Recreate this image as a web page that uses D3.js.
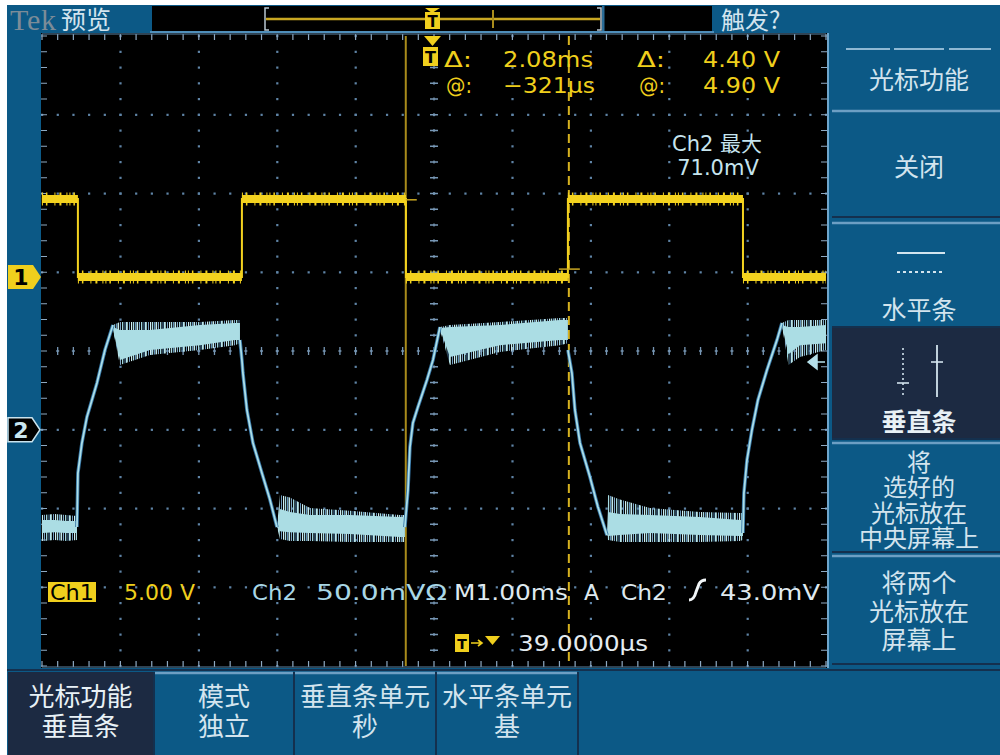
<!DOCTYPE html>
<html>
<head>
<meta charset="utf-8">
<script src="https://cdn.jsdelivr.net/npm/d3@7"></script>
<style>
  html, body { margin: 0; padding: 0; background: #ffffff; }
  svg { display: block; }
</style>
</head>
<body>
<svg id="scope" width="1000" height="755"></svg>
<script>
// ==============================
// Values
// ==============================

// Ch1 (yellow), time in ms, level in V
var ch1Time = [-4.962, -4.503, -4.503, -2.411, -2.411, -0.319, -0.319, 1.747, 1.747, 3.980, 3.980, 5.038];
var ch1Volt = [4.95, 4.95, 0, 0, 4.95, 4.95, 0, 0, 4.95, 4.95, 0, 0];

// Ch2 (cyan) edges, time in ms, level in mV
var ch2EdgeTime = [
  [-4.515, -4.503, -4.452, -4.388, -4.260, -4.158, -4.056],
  [-2.436, -2.411, -2.398, -2.347, -2.270, -2.156, -2.054, -1.964],
  [-0.332, -0.293, -0.268, -0.230, -0.166, -0.051, 0.026, 0.115],
  [1.747, 1.798, 1.837, 1.901, 2.028, 2.130, 2.245],
  [3.980, 3.992, 4.031, 4.094, 4.171, 4.286, 4.413, 4.477]
];
var ch2EdgeMv = [
  [-61.8, -27.5, -8.4, 8.1, 29.7, 50.6, 66.5],
  [57.0, 44.3, 36.0, 12.5, -8.4, -27.5, -44.3, -61.8],
  [-61.8, -38.3, -11.0, 4.3, 14.4, 31.6, 44.3, 65.2],
  [50.6, 36.0, 12.5, -8.4, -30.0, -49.0, -66.9],
  [-65.6, -40.2, -19.2, -0.2, 18.9, 37.9, 56.9, 67.8]
];

// Ch2 noisy flat parts: outer envelope and dense core, mV
var ch2BandTime = [
  [-4.962, -4.800, -4.650, -4.515],
  [-4.056, -3.967, -3.584, -2.946, -2.500, -2.436],
  [-1.964, -1.926, -1.798, -1.543, -1.033, -0.395, -0.332],
  [0.115, 0.242, 0.880, 1.645, 1.747],
  [2.245, 2.258, 2.411, 2.793, 3.431, 3.941, 3.980],
  [4.477, 4.560, 4.707, 5.038]
];
var ch2BandHi = [
  [-54.1, -53.5, -54.1, -54.8],
  [66.5, 68.4, 68.4, 68.4, 69.7, 69.7],
  [-61.8, -41.4, -43.0, -49.7, -51.5, -54.1, -54.1],
  [65.2, 66.5, 68.4, 71.0, 71.0],
  [-66.9, -41.4, -44.3, -49.7, -52.2, -52.9, -52.9],
  [67.8, 69.7, 69.7, 69.7]
];
var ch2BandLo = [
  [-70.6, -70.0, -70.6, -70.0],
  [63.3, 41.1, 47.5, 50.6, 53.7, 54.9],
  [-61.8, -69.4, -70.6, -70.6, -71.3, -71.3, -71.3],
  [63.3, 41.1, 49.4, 53.7, 54.9],
  [-66.9, -70.0, -71.3, -71.3, -71.3, -70.6, -70.0],
  [66.0, 41.1, 46.2, 50.6]
];
var ch2CoreHi = [
  [-57.3, -57.3, -57.9, -57.9],
  [65.2, 63.3, 63.3, 66.5, 67.8, 67.8],
  [-61.8, -50.3, -52.2, -54.1, -54.1, -55.4, -55.4],
  [64.6, 65.2, 66.5, 69.7, 69.7],
  [-66.9, -52.2, -53.5, -54.1, -55.4, -57.3, -57.3],
  [66.5, 65.2, 65.2, 66.5]
];
var ch2CoreLo = [
  [-65.6, -65.0, -65.6, -65.6],
  [64.0, 44.3, 50.6, 53.7, 57.0, 57.0],
  [-61.8, -64.4, -65.0, -65.6, -66.2, -68.1, -68.1],
  [63.9, 46.2, 53.7, 57.0, 57.0],
  [-66.9, -67.5, -66.9, -65.6, -66.9, -67.5, -67.5],
  [66.0, 48.0, 53.7, 55.0]
];

// Cursors (ms) and the Ch1 level where each one crosses (V)
var cursorTime = [-0.321, 1.759];
var cursorLevel = [4.90, 0.50];
var trigLevel = 43.0;   // mV on Ch2

// Settings
var timeDiv = 1.0, horizPos = 0.039;      // ms/div, ms
var ch1Div = 5.0, ch1Pos = 0.94;          // V/div, div
var ch2Div = 50.0, ch2Pos = -1.0;         // mV/div, div

// Texts
var readoutRow1 = ["Δ:", "2.08ms", "Δ:", "4.40 V"];
var readoutRow2 = ["@:", "−321µs", "@:", "4.90 V"];
var maxLabel = ["Ch2 最大", "71.0mV"];
var menuTitle = "光标功能";
var menuLabels = [["关闭"], ["水平条"], ["垂直条"], ["将", "选好的", "光标放在", "中央屏幕上"], ["将两个", "光标放在", "屏幕上"]];
var bottomLabels = [["光标功能", "垂直条"], ["模式", "独立"], ["垂直条单元", "秒"], ["水平条单元", "基"]];

// ==============================
// Setup
// ==============================
var blue = "#0c5986", navy = "#1c2a42", light = "#d3e4ee";
var svg = d3.select("#scope");

var plotL = 42, plotR = 826, plotT = 36, plotB = 666;

var gx = d3.scaleLinear().domain([0, 10]).range([plotL, plotR]);
var gy = d3.scaleLinear().domain([0, 8]).range([plotT, plotB]);

var xScale = d3.scaleLinear()
  .domain([-5 * timeDiv + horizPos, 5 * timeDiv + horizPos])
  .range([plotL, plotR]);
var y1Scale = d3.scaleLinear()
  .domain([(-4 - ch1Pos) * ch1Div, (4 - ch1Pos) * ch1Div])
  .range([plotB, plotT]);
var y2Scale = d3.scaleLinear()
  .domain([(-4 - ch2Pos) * ch2Div, (4 - ch2Pos) * ch2Div])
  .range([plotB, plotT]);

// background
svg.append("rect").attr("x", 7).attr("y", 5).attr("width", 993).attr("height", 750).attr("fill", blue);

// noise texture for the Ch2 bands (stripes with gaps, like sampled spikes)
var defs = svg.append("defs");
var pat = defs.append("pattern").attr("id", "noise")
  .attr("patternUnits", "userSpaceOnUse").attr("width", 19).attr("height", 8);
[[0, 1.2, "#a8dce4"], [2, 1, "#5f90b7"], [3.5, 1.6, "#c2e9ee"], [6, 1, "#7fa7c5"],
 [8, 1.3, "#9fd5df"], [10.5, 1, "#4e82ac"], [12, 1.8, "#b9e5ea"], [15, 1, "#6f9bbd"],
 [17, 1.2, "#d0eff2"]].forEach(function(s) {
  pat.append("rect").attr("x", s[0]).attr("y", 0).attr("width", s[1]).attr("height", 8).attr("fill", s[2]);
});

// ==============================
// Top bar
// ==============================
svg.append("text").attr("x", 10).attr("y", 30)
  .attr("font-family", "Liberation Serif, serif").attr("font-size", 30)
  .attr("fill", "#7c8c98").attr("textLength", 46).text("Tek");
svg.append("text").attr("x", 61).attr("y", 29)
  .attr("font-family", "Noto Sans CJK SC").attr("font-size", 25)
  .attr("fill", light).text("预览");
svg.append("text").attr("x", 721).attr("y", 29)
  .attr("font-family", "Noto Sans CJK SC").attr("font-size", 24)
  .attr("fill", light).text("触发?");

svg.append("rect").attr("x", 152).attr("y", 6).attr("width", 560).attr("height", 25).attr("fill", "#000");
svg.append("rect").attr("x", 602).attr("y", 6).attr("width", 2.5).attr("height", 25).attr("fill", "#2a6d98");
svg.append("line").attr("x1", 150).attr("x2", 714).attr("y1", 32).attr("y2", 32)
  .attr("stroke", "#4f8fbb").attr("stroke-width", 2);
// record window
svg.append("line").attr("x1", 266).attr("x2", 600).attr("y1", 19).attr("y2", 19)
  .attr("stroke", "#c9a722").attr("stroke-width", 2.5);
svg.append("path").attr("d", "M269,8 H265 V30 H269 M597,8 H601 V30 H597")
  .attr("fill", "none").attr("stroke", "#b9c8d2").attr("stroke-width", 1.5);
svg.append("line").attr("x1", 493).attr("x2", 493).attr("y1", 10).attr("y2", 28)
  .attr("stroke", "#a98c1c").attr("stroke-width", 2);
svg.append("path").attr("d", "M425,8 H440 L432,13 Z").attr("fill", "#f0cf1d");
svg.append("rect").attr("x", 425).attr("y", 12).attr("width", 15).attr("height", 17).attr("fill", "#f0cf1d");
svg.append("text").attr("x", 432.5).attr("y", 27).attr("text-anchor", "middle")
  .attr("font-family", "DejaVu Sans").attr("font-weight", "bold").attr("font-size", 15)
  .attr("fill", "#000").text("T");

// ==============================
// Screen and graticule
// ==============================
svg.append("rect").attr("x", 41).attr("y", 33).attr("width", 787).attr("height", 635).attr("fill", "#000");
svg.append("line").attr("x1", 828).attr("x2", 828).attr("y1", 33).attr("y2", 668)
  .attr("stroke", "#6fa6cc").attr("stroke-width", 2);

var grid = svg.append("g");
var fifths = d3.range(0, 41);
// dotted division lines
d3.range(1, 10).forEach(function(k) {
  if (k === 5) return;
  grid.selectAll(null).data(fifths).enter().append("rect")
    .attr("x", gx(k) - 1).attr("y", d => gy(d / 5) - 1)
    .attr("width", 2.2).attr("height", 2.2).attr("fill", "#5f84a6");
});
d3.range(1, 8).forEach(function(j) {
  if (j === 4) return;
  grid.selectAll(null).data(d3.range(0, 51)).enter().append("rect")
    .attr("x", d => gx(d / 5) - 1).attr("y", gy(j) - 1)
    .attr("width", 2.2).attr("height", 2.2).attr("fill", "#5f84a6");
});
// center cross with small ticks
grid.selectAll(null).data(d3.range(1, 50)).enter().append("path")
  .attr("d", d => `M${gx(d / 5)},${gy(4) - 4}V${gy(4) + 4}M${gx(d / 5) - 1.5},${gy(4)}H${gx(d / 5) + 1.5}`)
  .attr("stroke", "#7797b5").attr("stroke-width", 1.3);
grid.selectAll(null).data(d3.range(1, 40)).enter().append("path")
  .attr("d", d => `M${gx(5) - 4},${gy(d / 5)}H${gx(5) + 4}M${gx(5)},${gy(d / 5) - 1.5}V${gy(d / 5) + 1.5}`)
  .attr("stroke", "#7797b5").attr("stroke-width", 1.3);
// border ticks
grid.selectAll(null).data(d3.range(0, 51)).enter().append("path")
  .attr("d", d => `M${gx(d / 5)},${plotT - 2}V${plotT + 4}M${gx(d / 5)},${plotB + 1}V${plotB - 5}`)
  .attr("stroke", "#8ea9c2").attr("stroke-width", 1.2);
grid.selectAll(null).data(d3.range(0, 41)).enter().append("path")
  .attr("d", d => `M${plotL - 1},${gy(d / 5)}H${plotL + 5}M${plotR + 1},${gy(d / 5)}H${plotR - 5}`)
  .attr("stroke", "#8ea9c2").attr("stroke-width", 1.2);
grid.append("path").attr("d", `M${plotL},${plotT - 2}H${plotR}M${plotL},${plotB + 1}H${plotR}`)
  .attr("stroke", "#5f87a8").attr("stroke-width", 1);

// ==============================
// Cursors
// ==============================
svg.append("line").attr("x1", xScale(cursorTime[0])).attr("x2", xScale(cursorTime[0]))
  .attr("y1", plotT).attr("y2", plotB).attr("stroke", "#a98b1b").attr("stroke-width", 2);
svg.append("line").attr("x1", xScale(cursorTime[1])).attr("x2", xScale(cursorTime[1]))
  .attr("y1", plotT).attr("y2", plotB).attr("stroke", "#d6b21f").attr("stroke-width", 2)
  .attr("stroke-dasharray", "9,5");

// ==============================
// Ch2 trace
// ==============================
var ch2 = svg.append("g");
var bandArea = d3.area().x(d => xScale(d.t)).y0(d => y2Scale(d.lo)).y1(d => y2Scale(d.hi));
ch2BandTime.forEach(function(times, b) {
  var outer = times.map((t, i) => ({t: t, hi: ch2BandHi[b][i], lo: ch2BandLo[b][i]}));
  var core = times.map((t, i) => ({t: t, hi: ch2CoreHi[b][i], lo: ch2CoreLo[b][i]}));
  ch2.append("path").attr("d", bandArea(outer)).attr("fill", "url(#noise)");
  ch2.append("path").attr("d", bandArea(core)).attr("fill", "#abdde4");
});
var edgeLine = d3.line().x(d => xScale(d.t)).y(d => y2Scale(d.v));
ch2EdgeTime.forEach(function(times, e) {
  var pts = times.map((t, i) => ({t: t, v: ch2EdgeMv[e][i]}));
  ch2.append("path").attr("d", edgeLine(pts)).attr("fill", "none")
    .attr("stroke", "#3474a4").attr("stroke-width", 3.5);
  ch2.append("path").attr("d", edgeLine(pts)).attr("fill", "none")
    .attr("stroke", "#acdee7").attr("stroke-width", 1.8);
});

// ==============================
// Ch1 trace
// ==============================
var ch1 = svg.append("g");
var ch1Pts = ch1Time.map((t, i) => ({t: t, v: ch1Volt[i]}));
var ch1Line = d3.line().x(d => xScale(d.t)).y(d => y1Scale(d.v));
ch1.append("path").attr("d", ch1Line(ch1Pts))
  .attr("fill", "none").attr("stroke", "#f2d11f").attr("stroke-width", 2);
for (var i = 0; i < ch1Pts.length - 1; i++) {
  if (ch1Pts[i].v !== ch1Pts[i + 1].v) continue;
  var seg = [ch1Pts[i], ch1Pts[i + 1]];
  ch1.append("path").attr("d", ch1Line(seg)).attr("stroke", "#f3d21f").attr("stroke-width", 8);
  ch1.append("path").attr("d", ch1Line(seg)).attr("stroke", "#f3d21f").attr("stroke-width", 13)
    .attr("stroke-dasharray", "1,3,1.5,7,1,4,2,5,1,2");
}

// cursor crossing marks on Ch1
svg.append("line").attr("x1", xScale(cursorTime[0])).attr("x2", xScale(cursorTime[0]) + 11)
  .attr("y1", y1Scale(cursorLevel[0])).attr("y2", y1Scale(cursorLevel[0]))
  .attr("stroke", "#c9a722").attr("stroke-width", 1.5);
svg.append("line").attr("x1", xScale(cursorTime[1]) - 10).attr("x2", xScale(cursorTime[1]) + 11)
  .attr("y1", y1Scale(cursorLevel[1])).attr("y2", y1Scale(cursorLevel[1]))
  .attr("stroke", "#c9a722").attr("stroke-width", 1.5);

// trigger level arrow on the right edge
var ty = y2Scale(trigLevel);
svg.append("path").attr("d", `M808,${ty} L817,${ty - 7} L817,${ty + 7} Z M817,${ty} H825`)
  .attr("fill", "#b5e0ea").attr("stroke", "#b5e0ea").attr("stroke-width", 1.5);

// trigger position flag
svg.append("path").attr("d", "M424,36 H441 L432.5,46 Z").attr("fill", "#f0cf1d");
svg.append("rect").attr("x", 423).attr("y", 47).attr("width", 15).attr("height", 19).attr("fill", "#f0cf1d");
svg.append("text").attr("x", 430.5).attr("y", 63).attr("text-anchor", "middle")
  .attr("font-family", "DejaVu Sans").attr("font-weight", "bold").attr("font-size", 16)
  .attr("fill", "#000").text("T");

// channel markers
var g1 = y1Scale(0), g2 = y2Scale(0);
svg.append("path").attr("d", `M8,${g1 - 12} H33 L41,${g1} L33,${g1 + 12} H8 Z`)
  .attr("fill", "#f0cf1d");
svg.append("text").attr("x", 21).attr("y", g1 + 8).attr("text-anchor", "middle")
  .attr("font-family", "DejaVu Sans").attr("font-weight", "bold").attr("font-size", 22)
  .attr("fill", "#000").text("1");
svg.append("path").attr("d", `M8,${g2 - 12} H32 L40,${g2} L32,${g2 + 12} H8 Z`)
  .attr("fill", "#000").attr("stroke", "#c9e3ee").attr("stroke-width", 1.5);
svg.append("text").attr("x", 21).attr("y", g2 + 8).attr("text-anchor", "middle")
  .attr("font-family", "DejaVu Sans").attr("font-weight", "bold").attr("font-size", 22)
  .attr("fill", "#c9e6f0").text("2");

// ==============================
// On-screen readouts
// ==============================
function scopeText(x, y, s, color, w, size) {
  var t = svg.append("text").attr("x", x).attr("y", y)
    .attr("font-family", "DejaVu Sans, sans-serif").attr("font-size", size || 22)
    .attr("fill", color).text(s);
  if (w) t.attr("textLength", w).attr("lengthAdjust", "spacingAndGlyphs");
  return t;
}
var ro = [[444, 28], [503, 90], [637, 28], [703, 77]];
readoutRow1.forEach((s, i) => scopeText(ro[i][0], 67, s, "#efcf1c", ro[i][1]));
readoutRow2.forEach((s, i) => scopeText(ro[i][0] + (i % 2 === 0 ? 2 : 0), 93, s, "#efcf1c", i === 1 ? 92 : ro[i][1] - (i % 2 === 0 ? 2 : 0)));

svg.append("text").attr("x", 717).attr("y", 151).attr("text-anchor", "middle")
  .attr("font-family", "DejaVu Sans, Noto Sans CJK SC").attr("font-size", 21)
  .attr("fill", "#c6e4ee").text(maxLabel[0]);
svg.append("text").attr("x", 718).attr("y", 175).attr("text-anchor", "middle")
  .attr("font-family", "DejaVu Sans").attr("font-size", 21)
  .attr("fill", "#c6e4ee").text(maxLabel[1]);

// status line
svg.append("rect").attr("x", 48).attr("y", 582).attr("width", 48).attr("height", 20).attr("fill", "#f0cf1d");
scopeText(50, 600, "Ch1", "#000", 44, 21);
scopeText(124, 600, "5.00 V", "#efcf1c", 71, 21);
scopeText(252, 600, "Ch2", "#a9d7e6", 45, 21);
scopeText(316, 600, "50.0mVΩ", "#a9d7e6", 131, 21);
scopeText(454, 600, "M1.00ms", "#dfe9ef", 114, 21);
scopeText(584, 600, "A", "#dfe9ef", 15, 21);
scopeText(621, 600, "Ch2", "#dfe9ef", 46, 21);
svg.append("path").attr("d", "M689,600 Q694,600 696,592 L699,584 Q701,580 706,580")
  .attr("fill", "none").attr("stroke", "#f2f6f8").attr("stroke-width", 3);
scopeText(720, 600, "43.0mV", "#dfe9ef", 100, 21);

svg.append("rect").attr("x", 455).attr("y", 634).attr("width", 14).attr("height", 18).attr("fill", "#f0cf1d");
svg.append("text").attr("x", 462).attr("y", 649).attr("text-anchor", "middle")
  .attr("font-family", "DejaVu Sans").attr("font-weight", "bold").attr("font-size", 14)
  .attr("fill", "#000").text("T");
svg.append("path").attr("d", "M471,643 H481 M478,640 L482,643 L478,646").attr("fill", "none")
  .attr("stroke", "#f0cf1d").attr("stroke-width", 1.6);
svg.append("path").attr("d", "M485,636 H500 L492.5,645 Z").attr("fill", "#f0cf1d");
scopeText(518, 651, "39.0000µs", "#e4ecf1", 130, 21);

// ==============================
// Right menu
// ==============================
// multi-line labels as one text with tspans
function cjkLines(lines, cx, cy, step, size, color, weight) {
  var t = svg.append("text").attr("text-anchor", "middle").attr("font-family", "Noto Sans CJK SC")
    .attr("font-size", size).attr("font-weight", weight || "normal").attr("fill", color);
  lines.forEach(function(s, i) {
    t.append("tspan").attr("x", cx).attr("y", cy + i * step).attr("dy", "0.36em").text(s);
  });
}

[[846, 890], [894, 944], [949, 991]].forEach(function(p) {
  svg.append("line").attr("x1", p[0]).attr("x2", p[1]).attr("y1", 49).attr("y2", 49)
    .attr("stroke", "#8fb9d4").attr("stroke-width", 2);
});
cjkLines([menuTitle], 919, 80, 0, 25, light);

var boxes = [[110, 218], [222, 328], [328, 440], [442, 553], [555, 665]];
var textPos = [[167, 0, 25], [310, 0, 25], [422, 0, 25], [462, 25.5, 24], [583, 28.5, 25]];
boxes.forEach(function(b, i) {
  svg.append("rect").attr("x", 832).attr("y", b[0]).attr("width", 168).attr("height", b[1] - b[0])
    .attr("fill", i === 2 ? navy : blue);
  if (i !== 2) {
    svg.append("line").attr("x1", 832).attr("x2", 1000).attr("y1", b[0] + 1).attr("y2", b[0] + 1)
      .attr("stroke", "#6d9fc4").attr("stroke-width", 2.5);
  }
  svg.append("line").attr("x1", 832).attr("x2", 1000).attr("y1", b[1] - 1).attr("y2", b[1] - 1)
    .attr("stroke", "#14304e").attr("stroke-width", 2);
  cjkLines(menuLabels[i], 919, textPos[i][0], textPos[i][1], textPos[i][2],
    i === 2 ? "#e8f1f6" : light, i === 2 ? "bold" : "normal");
});
// horizontal bar icon
svg.append("line").attr("x1", 897).attr("x2", 945).attr("y1", 253).attr("y2", 253)
  .attr("stroke", light).attr("stroke-width", 1.8);
svg.append("line").attr("x1", 897).attr("x2", 945).attr("y1", 272).attr("y2", 272)
  .attr("stroke", light).attr("stroke-width", 2).attr("stroke-dasharray", "3,3");
// vertical bar icon
svg.append("line").attr("x1", 903).attr("x2", 903).attr("y1", 348).attr("y2", 397)
  .attr("stroke", light).attr("stroke-width", 1.6).attr("stroke-dasharray", "2,3");
svg.append("line").attr("x1", 897).attr("x2", 909).attr("y1", 383).attr("y2", 383)
  .attr("stroke", light).attr("stroke-width", 1.6);
svg.append("line").attr("x1", 937).attr("x2", 937).attr("y1", 345).attr("y2", 397)
  .attr("stroke", light).attr("stroke-width", 1.8);
svg.append("line").attr("x1", 931).attr("x2", 943).attr("y1", 362).attr("y2", 362)
  .attr("stroke", light).attr("stroke-width", 1.6);

// ==============================
// Bottom menu
// ==============================
var btnX = [[8, 153], [155, 293], [295, 435], [437, 577]];
svg.append("line").attr("x1", 7).attr("x2", 1000).attr("y1", 670).attr("y2", 670)
  .attr("stroke", "#14304e").attr("stroke-width", 2);
btnX.forEach(function(b, i) {
  svg.append("rect").attr("x", b[0]).attr("y", 672).attr("width", b[1] - b[0]).attr("height", 83)
    .attr("fill", i === 0 ? navy : blue);
  if (i !== 0) {
    svg.append("line").attr("x1", b[0]).attr("x2", b[1]).attr("y1", 673).attr("y2", 673)
      .attr("stroke", "#6d9fc4").attr("stroke-width", 2.5);
  }
  svg.append("line").attr("x1", b[1] + 1).attr("x2", b[1] + 1).attr("y1", 672).attr("y2", 755)
    .attr("stroke", "#14304e").attr("stroke-width", 2);
  cjkLines(bottomLabels[i], (b[0] + b[1]) / 2, 697, 30, 26, i === 0 ? "#e8f1f6" : light);
});
</script>
</body>
</html>
